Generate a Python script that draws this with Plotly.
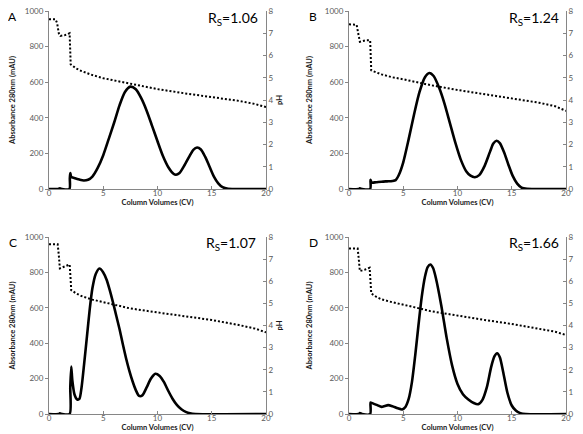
import plotly.graph_objects as go

# ---------------- data ----------------
panel_letters = ["A", "B", "C", "D"]
rs_values = ["1.06", "1.24", "1.07", "1.66"]

# Panel A
a_cv = [0, 0.8, 1.0, 1.2, 1.88, 1.92, 1.96, 2.05, 2.4, 2.8, 3.2, 3.6, 4.0, 4.5, 5.0, 5.5, 6.0, 6.5, 7.0, 7.5,
        8.0, 8.5, 9.0, 9.5, 10.0, 10.5, 11.0, 11.5, 11.7, 12.0, 12.5, 13.0, 13.3, 13.65, 14.0, 14.4, 14.8,
        15.2, 15.6, 16.0, 16.5, 17.0, 20.0]
a_abs = [0, 0, 4, 0, 0, 60, 90, 68, 60, 53, 48, 52, 70, 120, 190, 280, 372, 470, 545, 575,
         560, 510, 440, 355, 268, 185, 122, 84, 80, 88, 135, 190, 220, 233, 222, 180, 125,
         70, 32, 10, 1, 0, 0]
a_ph_cv = [0, 0.6, 0.75, 0.9, 1.05, 1.5, 1.9, 1.95, 2.0, 2.5, 3.0, 4.0, 5.0, 6.0, 7.5, 10.0, 12.5, 15.0, 17.5, 19.0, 20.0]
a_ph = [7.63, 7.63, 7.45, 7.0, 6.88, 6.92, 7.0, 6.2, 5.6, 5.42, 5.3, 5.12, 4.98, 4.88, 4.73, 4.49, 4.30, 4.13, 3.96, 3.82, 3.68]

# Panel B
b_cv = [0, 0.9, 1.0, 1.2, 1.95, 1.98, 2.02, 2.1, 2.5, 3.0, 3.5, 4.0, 4.3, 4.6, 5.0, 5.5, 6.0, 6.5, 7.0, 7.4,
        7.8, 8.3, 8.8, 9.3, 9.8, 10.3, 10.8, 11.2, 11.6, 12.0, 12.5, 13.0, 13.3, 13.6, 13.9, 14.3, 14.7,
        15.1, 15.5, 15.9, 16.4, 17.0, 20.0]
b_abs = [0, 0, 4, 0, 0, 52, 45, 36, 38, 41, 43, 45, 50, 80, 150, 280, 420, 545, 628, 652,
         635, 570, 480, 370, 260, 165, 100, 75, 66, 78, 130, 210, 255, 271, 258, 205, 135,
         72, 30, 8, 1, 0, 0]
b_ph_cv = [0, 0.7, 0.85, 1.0, 1.5, 1.95, 2.0, 2.05, 3.0, 4.0, 5.0, 6.0, 7.5, 10.0, 12.5, 15.0, 17.5, 19.0, 20.0]
b_ph = [7.40, 7.38, 7.0, 6.62, 6.68, 6.68, 6.0, 5.33, 5.15, 5.02, 4.93, 4.82, 4.67, 4.45, 4.25, 4.07, 3.88, 3.72, 3.51]

# Panel C
c_cv = [0, 0.9, 1.0, 1.2, 1.9, 1.96, 2.05, 2.15, 2.35, 2.6, 2.8, 3.0, 3.25, 3.5, 3.75, 4.0, 4.3, 4.65, 5.0,
        5.3, 5.6, 5.9, 6.2, 6.5, 6.8, 7.1, 7.4, 7.7, 8.0, 8.3, 8.6, 9.0, 9.4, 9.8, 10.2, 10.6, 11.0,
        11.4, 11.8, 12.2, 12.6, 13.0, 13.5, 20.0]
c_abs = [0, 0, 4, 0, 0, 150, 268, 190, 110, 82, 85, 150, 290, 440, 590, 710, 790, 822, 800,
         760, 700, 630, 555, 480, 395, 315, 245, 185, 135, 102, 105, 150, 200, 227, 215, 180, 130,
         85, 50, 27, 12, 4, 0, 0]
c_ph_cv = [0, 0.8, 0.9, 1.0, 1.5, 1.9, 1.98, 2.05, 2.5, 3.0, 4.0, 5.0, 6.0, 7.5, 10.0, 12.5, 15.0, 17.5, 19.0, 20.0]
c_ph = [7.67, 7.67, 7.2, 6.58, 6.68, 6.76, 6.2, 5.60, 5.45, 5.33, 5.17, 5.05, 4.93, 4.77, 4.59, 4.41, 4.25, 4.02, 3.86, 3.69]

# Panel D
d_cv = [0, 0.9, 1.0, 1.2, 1.95, 1.98, 2.02, 2.2, 2.6, 3.0, 3.3, 3.6, 4.0, 4.5, 4.9, 5.2, 5.5, 5.8, 6.1, 6.4,
        6.7, 7.0, 7.25, 7.5, 7.75, 8.0, 8.5, 9.0, 9.5, 10.0, 10.5, 11.0, 11.5, 11.9, 12.3, 12.7, 13.1,
        13.4, 13.65, 13.9, 14.2, 14.6, 15.0, 15.4, 15.8, 16.3, 20.0]
d_abs = [0, 0, 5, 0, 0, 65, 64, 60, 50, 40, 45, 50, 44, 32, 26, 40, 85, 180, 330, 500,
         660, 775, 830, 845, 825, 770, 615, 430, 275, 170, 112, 82, 62, 55, 80, 150, 265,
         325, 343, 320, 240, 120, 48, 18, 5, 0, 0]
d_ph_cv = [0, 0.8, 0.9, 1.0, 1.5, 1.9, 1.98, 2.05, 2.5, 3.0, 4.0, 5.0, 6.0, 7.5, 10.0, 12.5, 15.0, 17.5, 19.0, 20.0]
d_ph = [7.48, 7.48, 7.0, 6.46, 6.53, 6.61, 6.0, 5.45, 5.30, 5.18, 5.05, 4.95, 4.83, 4.65, 4.44, 4.25, 4.07, 3.84, 3.72, 3.57]

x_ticks = [0, 5, 10, 15, 20]
abs_ticks = [0, 200, 400, 600, 800, 1000]
ph_ticks = [0, 1, 2, 3, 4, 5, 6, 7, 8]

panels = [
    (a_cv, a_abs, a_ph_cv, a_ph),
    (b_cv, b_abs, b_ph_cv, b_ph),
    (c_cv, c_abs, c_ph_cv, c_ph),
    (d_cv, d_abs, d_ph_cv, d_ph),
]

# ---------------- layout geometry ----------------
W, H = 583, 434
FONT = "Lato, 'Open Sans', sans-serif"
AXIS_COLOR = "#868686"
TICK_COLOR = "#595959"
TITLE_COLOR = "#1a1a1a"

# plot areas in pixels: (left, right, top, bottom)
areas = [(41, 258, 3, 181), (341, 558, 3, 181), (41, 258, 229, 406), (341, 558, 229, 406)]
letter_pos = [(4, 9), (305, 8), (5, 234), (305, 234)]
rs_pos = [(252, 10), (553, 10), (250, 235), (553, 235)]

fig = go.Figure()
layout = dict(
    template="none",
    width=W, height=H, margin=dict(l=0, r=0, t=0, b=0, autoexpand=False),
    paper_bgcolor="white", plot_bgcolor="white", showlegend=False,
    font=dict(family=FONT, size=8, color=TICK_COLOR),
)
annotations = []

for i, (cv, ab, pcv, ph) in enumerate(panels):
    n = i + 1
    xa = "x" if n == 1 else f"x{n}"
    yl_idx = 2 * i + 1
    yr_idx = 2 * i + 2
    yl = "y" if yl_idx == 1 else f"y{yl_idx}"
    yr = f"y{yr_idx}"

    fig.add_trace(go.Scatter(x=cv, y=ab, xaxis=xa, yaxis=yl, mode="lines",
                             line=dict(color="black", width=2.6, shape="spline", smoothing=0.7),
                             hoverinfo="skip"))
    fig.add_trace(go.Scatter(x=pcv, y=ph, xaxis=xa, yaxis=yr, mode="lines",
                             line=dict(color="black", width=2, dash="2px,2px"),
                             hoverinfo="skip"))

    l, r, t, b = areas[i]
    xdom = [l / W, r / W]
    ydom = [(H - b) / H, (H - t) / H]
    xkey = "xaxis" if n == 1 else f"xaxis{n}"
    ylkey = "yaxis" if yl_idx == 1 else f"yaxis{yl_idx}"
    yrkey = f"yaxis{yr_idx}"

    common = dict(showline=True, linecolor=AXIS_COLOR, linewidth=1, showgrid=False, zeroline=False,
                  ticklen=3, tickcolor=AXIS_COLOR, automargin=False, ticklabeloverflow="allow",
                  tickfont=dict(size=8, color=TICK_COLOR, family=FONT))

    layout[xkey] = dict(
        domain=xdom, anchor=yl, range=[0, 20], tickvals=x_ticks, ticks="inside", ticklabelstandoff=-4,
        title=dict(text="<b>Column Volumes (CV)</b>", font=dict(size=7.5, color=TITLE_COLOR, family=FONT), standoff=0),
        **common,
    )
    layout[ylkey] = dict(
        domain=ydom, anchor=xa, range=[0, 1000], tickvals=abs_ticks, ticks="outside",
        title=dict(text="<b>Absorbance 280nm (mAU)</b>", font=dict(size=7.5, color=TITLE_COLOR, family=FONT), standoff=11),
        **common,
    )
    layout[yrkey] = dict(
        domain=ydom, anchor=xa, overlaying=yl, side="right", range=[0, 8], tickvals=ph_ticks, ticks="inside",
        title=dict(text="<b>pH</b>", font=dict(size=7.5, color=TITLE_COLOR, family=FONT), standoff=4),
        **common,
    )

    lx, ly = letter_pos[i]
    annotations.append(dict(text=panel_letters[i], xref="paper", yref="paper",
                            x=lx / W, y=1 - ly / H, xanchor="center", yanchor="middle",
                            showarrow=False, font=dict(size=12, color="black", family=FONT)))
    rx, ry = rs_pos[i]
    annotations.append(dict(text=f"R<sub>S</sub>={rs_values[i]}", xref="paper", yref="paper",
                            x=rx / W, y=1 - ry / H, xanchor="right", yanchor="middle",
                            showarrow=False, font=dict(size=14, color="black", family=FONT)))

layout["annotations"] = annotations
fig.update_layout(**layout)
fig.write_html("out.html")
